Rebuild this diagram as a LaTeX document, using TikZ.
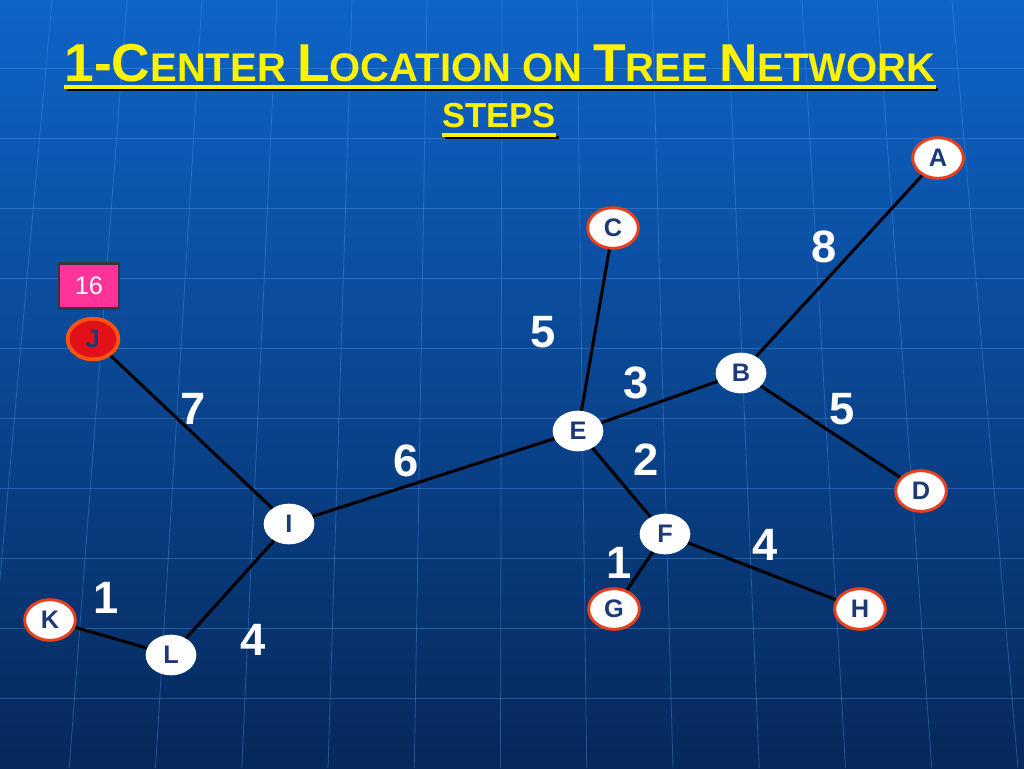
\documentclass[tikz,border=0pt]{standalone}
\usepackage{fontspec}
\setmainfont{Liberation Sans}
\usepackage{tikz}
\usetikzlibrary{positioning,shapes.geometric}
\definecolor{bgtop}{RGB}{14,100,200}
\definecolor{bgbot}{RGB}{6,40,90}
\definecolor{gridblue}{RGB}{80,150,235}
\definecolor{lettercol}{RGB}{28,58,120}
\definecolor{rim}{RGB}{232,64,28}
\definecolor{jred}{RGB}{226,16,24}
\definecolor{jrim}{RGB}{255,84,16}
\definecolor{boxpink}{RGB}{255,51,153}
\definecolor{boxrim}{RGB}{55,55,55}
\newcommand{\capletter}[1]{{\fontsize{40}{40}\selectfont #1}}

\begin{document}
\begin{tikzpicture}[x=0.75pt,y=-0.75pt,
every node/.style = {font=\bfseries},
  inner/.style = {ellipse, fill=white, minimum width=38pt, minimum height=30.5pt,
    inner sep=0pt, text=lettercol, font=\fontsize{19}{19}\selectfont\bfseries},
  leaf/.style = {inner, draw=rim, line width=2.2pt},
  start/.style = {inner, fill=jred, draw=jrim, line width=2.8pt},
  tag/.style = {rectangle, fill=boxpink, draw=boxrim, line width=2.2pt,
    minimum width=45pt, minimum height=34pt, text=white,
    font=\fontsize{19}{19}\selectfont},
  weight/.style = {text=white, font=\fontsize{34}{34}\selectfont\bfseries},
  branch/.style = {line width=2.3pt, black},
  heading/.style = {inner sep=0pt, anchor=base, text=yellow,
    font=\fontsize{30}{30}\selectfont\bfseries}
]
\useasboundingbox (0,0) rectangle (1024,768);
\shade[top color=bgtop, bottom color=bgbot] (0,0) rectangle (1024,768);
% faint globe grid
\foreach \y in {68,138,...,698}
  \draw[gridblue, opacity=0.4, line width=0.6pt] (0,\y) -- (1024,\y);
\foreach \x in {52,127,...,952}
  \draw[gridblue, opacity=0.4, line width=0.6pt]
    (\x,0) -- ({512+(\x-512)*1.15},768);

% title
\node[heading] (title) at (500,81) {\capletter{1-C}ENTER \capletter{L}OCATION ON \capletter{T}REE \capletter{N}ETWORK};
\draw[black, line width=2.4pt] ([shift={(2pt,-6.5pt)}]title.base west) -- ([shift={(2pt,-6.5pt)}]title.base east);
\draw[yellow, line width=2.4pt] ([yshift=-4.5pt]title.base west) -- ([yshift=-4.5pt]title.base east);
\node[heading, font=\fontsize{26}{26}\selectfont\bfseries] (steps) at (499,127) {STEPS};
\draw[black, line width=2.4pt] ([shift={(2pt,-8pt)}]steps.base west) -- ([shift={(2pt,-8pt)}]steps.base east);
\draw[yellow, line width=2.4pt] ([yshift=-6pt]steps.base west) -- ([yshift=-6pt]steps.base east);

% tree
\node[leaf] (A) at (938,158) {A};
\node[leaf] (C) at (613,228) {C};
\node[inner] (B) at (741,373) {B};
\node[leaf] (D) at (921,491) {D};
\node[inner] (E) at (578,431) {E};
\node[inner] (F) at (665,534) {F};
\node[leaf] (G) at (614,609) {G};
\node[leaf] (H) at (860,609) {H};
\node[inner] (I) at (289,524) {I};
\node[inner] (L) at (171,655) {L};
\node[leaf] (K) at (50,620) {K};
\node[start] (J) at (93,339) {J};
\node[tag, above=5pt of J, xshift=-3pt] (score) {16};

\draw[branch] (A) -- (B);
\draw[branch] (B) -- (D);
\draw[branch] (B) -- (E);
\draw[branch] (C) -- (E);
\draw[branch] (E) -- (F);
\draw[branch] (F) -- (G);
\draw[branch] (F) -- (H);
\draw[branch] (E) -- (I);
\draw[branch] (J) -- (I);
\draw[branch] (I) -- (L);
\draw[branch] (L) -- (K);

% distances
\node[weight] (wAB) at (824,247) {8};
\node[weight] (wCE) at (543,332) {5};
\node[weight] (wBE) at (636,383) {3};
\node[weight] (wBD) at (842,409) {5};
\node[weight] (wJI) at (193,409) {7};
\node[weight] (wEI) at (406,461) {6};
\node[weight] (wEF) at (646,460) {2};
\node[weight] (wFH) at (765,545) {4};
\node[weight] (wFG) at (619,563) {1};
\node[weight] (wKL) at (106,598) {1};
\node[weight] (wIL) at (253,640) {4};
\end{tikzpicture}
\end{document}
